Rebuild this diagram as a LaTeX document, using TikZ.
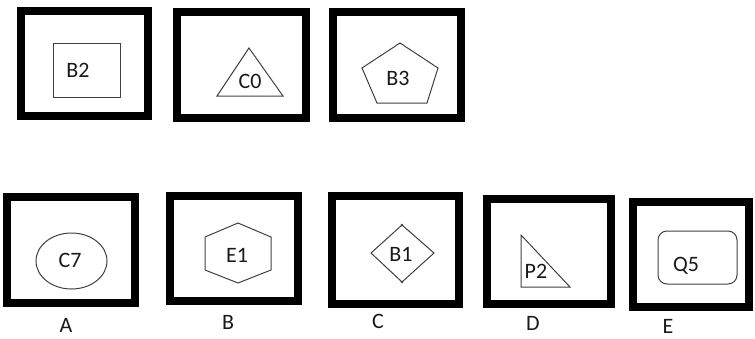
\documentclass[tikz,border=0pt]{standalone}
\usepackage{fontspec}
\setmainfont{Carlito}

\begin{document}
\begin{tikzpicture}[x=1pt,y=-1pt,
  frame/.style={draw,line width=8pt,inner sep=0pt},
  figure/.style={draw=black!75,line width=1pt,inner sep=0pt},
  sign/.style={font=\fontsize{22}{24}\selectfont,text=black!90,inner sep=0pt}]
\useasboundingbox (0,0) rectangle (755,338);
% thick frames: name/centre x/centre y/width/height
\foreach \n/\x/\y/\w/\h in {q1/84.5/63.5/127/105, q2/241.5/65/129/106,
  q3/397/65/128/106, optA/71/250/128/106, optB/234/248.5/128/105,
  optC/395.5/250/127/108, optD/549/251.5/124/105, optE/691/254.5/116/105}
\node[frame,minimum width=\w pt,minimum height=\h pt] (\n) at (\x,\y) {};
% top row
\node[figure,minimum width=67pt,minimum height=54pt] (b2box) at (86.5,70) {};
\node[sign] (b2) at (78,70) {B2};
\draw[figure] (249,48) -- (283,96) -- (217,96) -- cycle;
\node[sign] (c0) at (250,81) {C0};
\draw[figure] (400,43) -- (438,68) -- (427,103) -- (377,103) -- (362,68) -- cycle;
\node[sign] (b3) at (398,78.5) {B3};
% bottom row
\draw[figure] (71.5,261) ellipse (35.5pt and 28pt);
\node[sign] (c7) at (70,260) {C7};
\draw[figure] (238,223) -- (271,237) -- (271,270) -- (238,283) -- (205,270) -- (205,237) -- cycle;
\node[sign] (e1) at (237,255) {E1};
\draw[figure] (402,225) -- (434,253) -- (402,282) -- (371,253) -- cycle;
\fill[black!75] (402,225) circle (1.3pt) (402,282) circle (1.3pt);
\node[sign] (b1) at (401,254) {B1};
\draw[figure] (521,235) -- (570,287) -- (521,287) -- cycle;
\node[sign] (p2) at (536,271.5) {P2};
\node[figure,rounded corners=9pt,minimum width=79pt,minimum height=53pt] (q5box) at (697.5,257.5) {};
\node[sign] (q5) at (686,266) {Q5};
% option letters
\foreach \n/\t/\x/\y in {labA/A/66/325, labB/B/228/322, labC/C/378/321,
  labD/D/533/323, labE/E/668/326}
\node[sign] (\n) at (\x,\y) {\t};
\end{tikzpicture}
\end{document}
